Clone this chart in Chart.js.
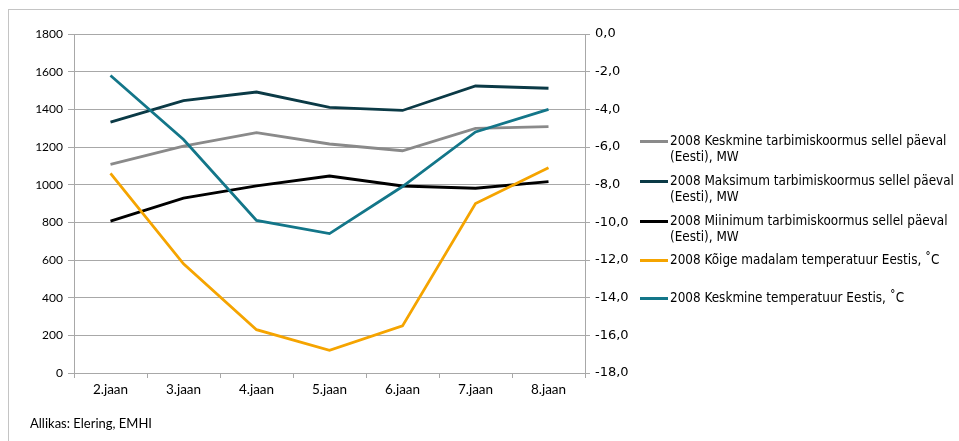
<!DOCTYPE html>
<html lang="et">
<head>
<meta charset="utf-8">
<title>Tarbimiskoormus ja temperatuur, 2.–8. jaanuar 2008</title>
<script src="https://cdn.jsdelivr.net/npm/chart.js@4/dist/chart.umd.min.js"></script>
<style>
  html, body { margin: 0; padding: 0; background: #fff; }
  #wrap { position: relative; width: 959px; height: 441px; overflow: hidden; }
  #frame { position: absolute; left: 8px; top: 9px; width: 1000px; height: 500px;
           border-left: 1px solid #c4c4c4; border-top: 1px solid #c4c4c4; box-sizing: border-box; }
  #chart { position: absolute; left: 0; top: 0; }
  #legend { position: absolute; left: 640px; top: 0; width: 319px; height: 441px;
            font-family: 'DejaVu Sans Condensed', 'DejaVu Sans', sans-serif; font-size: 13.4px; color: #000; }
  .item { position: absolute; left: 0; display: flex; align-items: flex-start; }
  .swatch { width: 28px; height: 3px; margin-top: 7px; margin-right: 2px; flex: none; }
  .txt { line-height: 15.5px; white-space: nowrap; }
  #source { position: absolute; left: 30px; top: 415px; font-family: Lato, sans-serif; font-size: 13px; color: #000; }
</style>
</head>
<body>
<div id="wrap">
  <div id="frame"></div>
  <canvas id="chart" width="959" height="441"></canvas>
  <div id="legend"></div>
  <div id="source">Allikas: Elering, EMHI</div>
</div>
<script>
// Päevad
const days = ['2.jaan', '3.jaan', '4.jaan', '5.jaan', '6.jaan', '7.jaan', '8.jaan'];

// Tarbimiskoormus, MW (vasak telg)
const avgLoad = [1108, 1205, 1276, 1216, 1180, 1299, 1308];
const maxLoad = [1332, 1446, 1492, 1410, 1394, 1524, 1512];
const minLoad = [806, 928, 993, 1046, 993, 981, 1016];

// Temperatuur, °C (parem telg)
const minTemp = [-7.4, -12.2, -15.7, -16.8, -15.5, -9.0, -7.1];
const avgTemp = [-2.2, -5.6, -9.9, -10.6, -8.1, -5.2, -4.0];

// Legendi tekstid (reavahetusega)
const seriesNames = [
  ['2008 Keskmine tarbimiskoormus sellel päeval', '(Eesti), MW'],
  ['2008 Maksimum tarbimiskoormus sellel päeval', '(Eesti), MW'],
  ['2008 Miinimum tarbimiskoormus sellel päeval', '(Eesti), MW'],
  ['2008 Kõige madalam temperatuur Eestis, ˚C'],
  ['2008 Keskmine temperatuur Eestis, ˚C']
];

const colors = ['#8a8a8a', '#0b3a46', '#000000', '#f5a400', '#137689'];
const legendTops = [133, 173, 213, 252, 290];

const axisGray = '#a8a8a8';

function line(label, data, color, axis, idx) {
  return {
    label: label.join(' '),
    data: data,
    borderColor: color,
    backgroundColor: color,
    borderWidth: 2.8,
    pointRadius: 0,
    pointHoverRadius: 0,
    tension: 0,
    fill: false,
    yAxisID: axis,
    order: 10 - idx
  };
}

const datasets = [
  line(seriesNames[0], avgLoad, colors[0], 'y', 0),
  line(seriesNames[1], maxLoad, colors[1], 'y', 1),
  line(seriesNames[2], minLoad, colors[2], 'y', 2),
  line(seriesNames[3], minTemp, colors[3], 'y1', 3),
  line(seriesNames[4], avgTemp, colors[4], 'y1', 4)
];

new Chart(document.getElementById('chart'), {
  type: 'line',
  data: { labels: days, datasets: datasets },
  options: {
    responsive: false,
    animation: false,
    events: [],
    layout: { padding: { top: 34, left: 0, right: 0, bottom: 0 } },
    plugins: { legend: { display: false }, tooltip: { enabled: false } },
    scales: {
      x: {
        offset: true,
        grid: { offset: true, drawOnChartArea: false, drawTicks: true, tickLength: 5, color: axisGray },
        border: { color: axisGray, width: 1 },
        ticks: { color: '#000', font: { family: 'Lato', size: 13.5 }, padding: 4, maxRotation: 0 },
        afterFit: s => { s.height = 68; }
      },
      y: {
        position: 'left',
        min: 0, max: 1800,
        ticks: {
          stepSize: 200, color: '#000', font: { family: 'Lato', size: 12 }, padding: 5,
          callback: v => String(v)
        },
        grid: { color: axisGray, tickLength: 6 },
        border: { color: axisGray, width: 1 },
        afterFit: s => { s.width = 74; }
      },
      y1: {
        position: 'right',
        min: -18, max: 0,
        ticks: {
          stepSize: 2, color: '#000', font: { family: 'DejaVu Sans', size: 13 }, padding: 5,
          callback: v => v.toFixed(1).replace('.', ',')
        },
        grid: { drawOnChartArea: false, color: axisGray, tickLength: 5 },
        border: { color: axisGray, width: 1 },
        afterFit: s => { s.width = 374; }
      }
    }
  }
});

// Legend paremal
const legendEl = document.getElementById('legend');
seriesNames.forEach((lines, i) => {
  const item = document.createElement('div');
  item.className = 'item';
  item.style.top = legendTops[i] + 'px';
  const sw = document.createElement('div');
  sw.className = 'swatch';
  sw.style.background = colors[i];
  const tx = document.createElement('div');
  tx.className = 'txt';
  tx.innerHTML = lines.join('<br>');
  item.appendChild(sw);
  item.appendChild(tx);
  legendEl.appendChild(item);
});
</script>
</body>
</html>
